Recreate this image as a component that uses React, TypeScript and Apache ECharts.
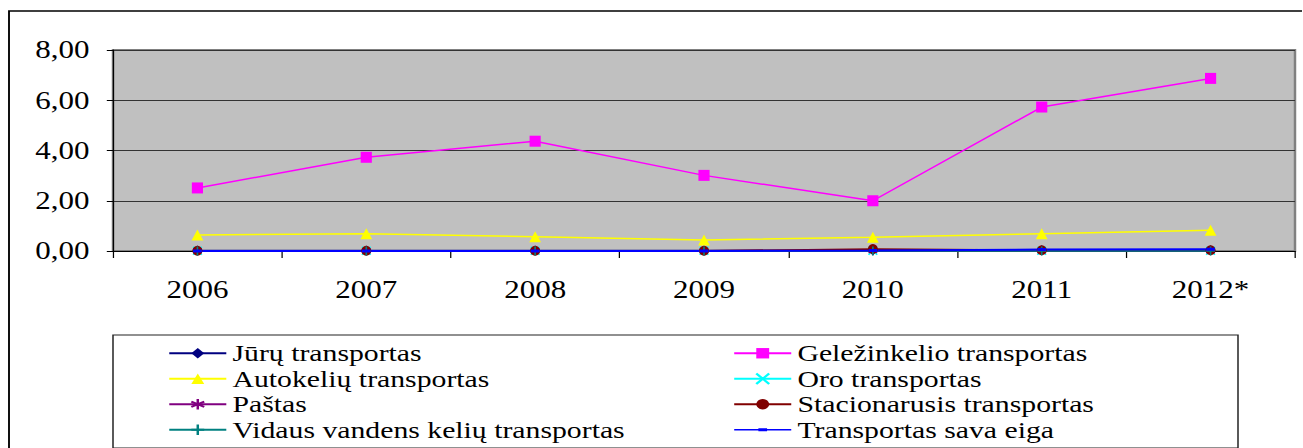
import React, { useEffect, useRef } from "react";
import * as echarts from "echarts";

const years = ["2006", "2007", "2008", "2009", "2010", "2011", "2012*"];
const juru = [0.02, 0.02, 0.02, 0.02, 0.02, 0.03, 0.03];
const gelezinkelio = [2.51, 3.73, 4.37, 3.01, 2.0, 5.73, 6.87];
const autokeliu = [0.64, 0.69, 0.57, 0.44, 0.55, 0.69, 0.83];
const oro = [0.01, 0.01, 0.01, 0.01, 0.01, 0.01, 0.01];
const pastas = [0.01, 0.01, 0.01, 0.01, 0.01, 0.01, 0.01];
const stacionarusis = [0.01, 0.01, 0.01, 0.01, 0.08, 0.03, 0.03];
const vidaus = [0.0, 0.0, 0.0, 0.0, 0.0, 0.0, 0.0];
const savaEiga = [0.0, 0.0, 0.0, 0.0, 0.02, 0.06, 0.07];

const yTicks = { min: 0, max: 8, interval: 2 };

const S = 1.24; // horizontal stretch of the reference
const W = 1050;
const H = 448;
const FONT = "Liberation Serif";

const X_PATH = "path://M0,0L10,10M10,0L0,10";
const STAR_PATH = "path://M5,0L5,10M0.7,2.5L9.3,7.5M0.7,7.5L9.3,2.5";
const PLUS_PATH = "path://M5,0L5,10M0,5L10,5";
const DASH_PATH = "path://M0,0L7,0L7,2.6L0,2.6Z";
const DASH_LEGEND_ICON =
  "path://M0,0L0.01,0L0,0.01Z M46,13L45.99,13L46,12.99Z M0,5.75L46,5.75L46,7.25L0,7.25Z M19.5,5L26.5,5L26.5,8L19.5,8Z";

export default function App() {
  const ref = useRef<HTMLDivElement>(null);

  useEffect(() => {
    if (!ref.current) return;
    document.body.style.overflow = "hidden";
    const chart = echarts.init(ref.current, undefined, {
      renderer: "svg",
      width: W,
      height: H,
    });

    const mk = (
      name: string,
      data: number[],
      color: string,
      symbol: string,
      symbolSize: number | number[],
      lineWidth: number,
      stroke = false
    ) => ({
      name,
      type: "line",
      data,
      symbol,
      symbolSize,
      showAllSymbol: true,
      lineStyle: { color, width: lineWidth },
      itemStyle: stroke
        ? { color, borderColor: color, borderWidth: 1.5 }
        : { color, borderWidth: 0 },
      emphasis: { disabled: true },
    });

    const legendText = {
      fontFamily: FONT,
      fontSize: 24,
      color: "#000",
      lineHeight: 25.5,
    };

    chart.setOption({
      animation: false,
      backgroundColor: "#fff",
      graphic: [
        {
          type: "rect",
          z: -10,
          shape: { x: 9 / S, y: 11, width: 2000, height: 1000 },
          style: { fill: "none", stroke: "#000", lineWidth: 1.5 },
        },
        {
          type: "rect",
          z: -10,
          shape: { x: 113 / S, y: 335, width: (1238 - 113) / S, height: 113 },
          style: { fill: "#fff", stroke: "#222", lineWidth: 1.2 },
        },
      ],
      grid: {
        left: 113 / S,
        right: W - 1295 / S,
        top: 50,
        bottom: H - 251,
        show: true,
        backgroundColor: "#C0C0C0",
        borderColor: "#808080",
        borderWidth: 2,
      },
      legend: [
        {
          orient: "vertical",
          left: 135.5,
          top: 340.5,
          padding: 0,
          itemWidth: 46,
          itemHeight: 13,
          itemGap: 0,
          selectedMode: false,
          data: [
            "Jūrų transportas",
            "Autokelių transportas",
            "Paštas",
            "Vidaus vandens kelių transportas",
          ],
          textStyle: legendText,
        },
        {
          orient: "vertical",
          left: 591.1,
          top: 340.5,
          padding: 0,
          itemWidth: 46,
          itemHeight: 13,
          itemGap: 0,
          selectedMode: false,
          data: [
            "Geležinkelio transportas",
            "Oro transportas",
            "Stacionarusis transportas",
            { name: "Transportas sava eiga", icon: DASH_LEGEND_ICON },
          ],
          textStyle: legendText,
        },
      ],
      xAxis: {
        type: "category",
        data: years,
        boundaryGap: true,
        axisLine: { show: true, lineStyle: { color: "#000", width: 1 } },
        axisTick: { show: true, length: 7, lineStyle: { color: "#000" } },
        axisLabel: {
          margin: 26,
          fontFamily: FONT,
          fontSize: 25,
          color: "#000",
        },
        splitLine: { show: false },
      },
      yAxis: {
        type: "value",
        min: yTicks.min,
        max: yTicks.max,
        interval: yTicks.interval,
        axisLine: { show: true, lineStyle: { color: "#000", width: 1 } },
        axisTick: { show: true, length: 5, lineStyle: { color: "#000" } },
        axisLabel: {
          margin: 19,
          fontFamily: FONT,
          fontSize: 25,
          color: "#000",
          formatter: (v: number) => v.toFixed(2).replace(".", ","),
        },
        splitLine: { show: true, lineStyle: { color: "#333", width: 1 } },
      },
      series: [
        mk("Jūrų transportas", juru, "#000080", "diamond", [8, 10], 1.5),
        mk("Geležinkelio transportas", gelezinkelio, "#FF00FF", "rect", [9, 11], 1.5),
        mk("Autokelių transportas", autokeliu, "#FFFF00", "triangle", [9.5, 11], 1.5),
        mk("Oro transportas", oro, "#00FFFF", X_PATH, [7, 8], 1.5, true),
        mk("Paštas", pastas, "#800080", STAR_PATH, [7, 8], 1.5, true),
        mk("Stacionarusis transportas", stacionarusis, "#800000", "circle", [8, 10], 1.5),
        mk("Vidaus vandens kelių transportas", vidaus, "#008080", PLUS_PATH, [7, 9], 1.5, true),
        mk("Transportas sava eiga", savaEiga, "#0000FF", DASH_PATH, [7, 3], 2),
      ],
    });

    return () => chart.dispose();
  }, []);

  return (
    <div
      ref={ref}
      style={{
        position: "absolute",
        left: 0,
        top: 0,
        width: W,
        height: H,
        transform: `scaleX(${S})`,
        transformOrigin: "0 0",
      }}
    />
  );
}
